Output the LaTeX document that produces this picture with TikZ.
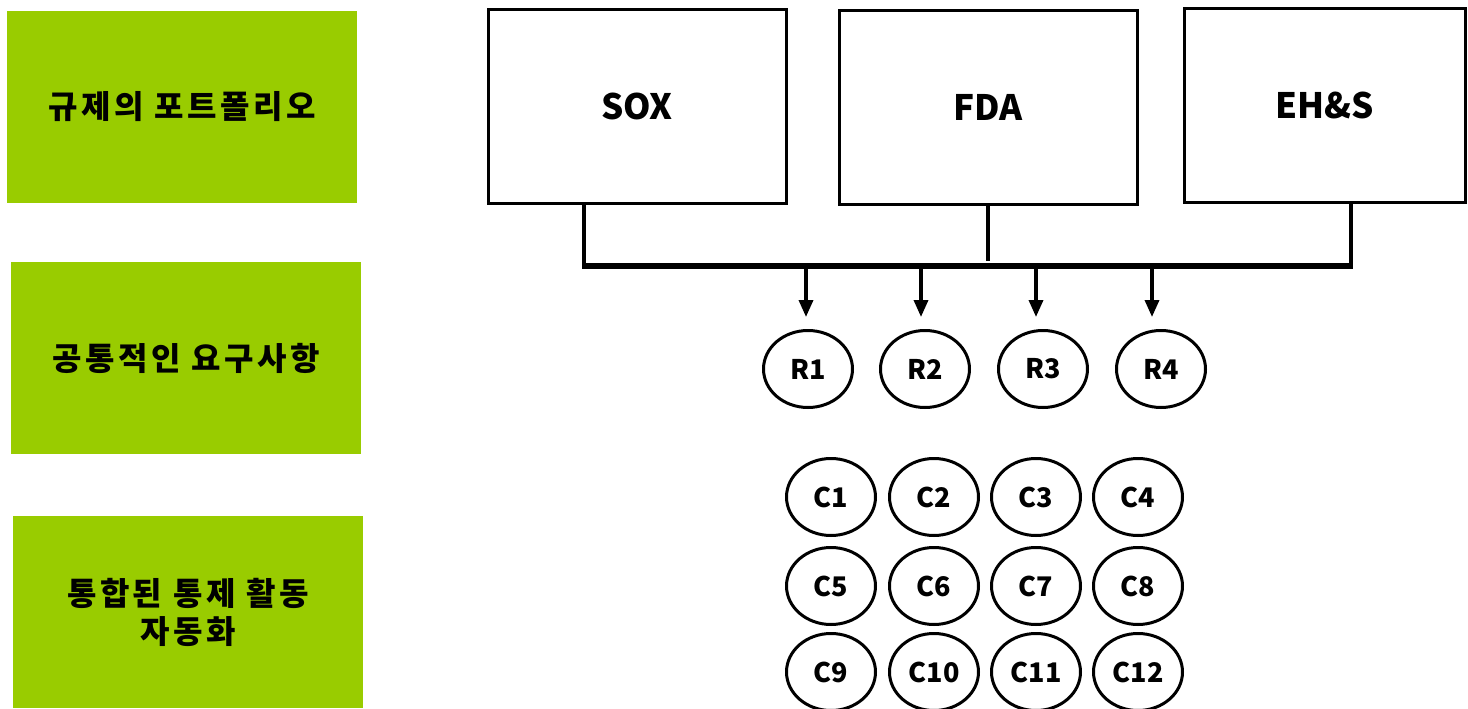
\documentclass[tikz,border=0pt]{standalone}
\usepackage{fontspec}
\setmainfont{Noto Sans CJK KR}
\newfontfamily\krwide{Noto Sans CJK KR}[LetterSpace=11]
\usetikzlibrary{shapes.geometric,arrows.meta}
\definecolor{leaf}{HTML}{99CC00}
\begin{document}
\begin{tikzpicture}[x=1pt,y=-1pt,
  stage/.style={fill=leaf,draw=none,minimum width=350pt,minimum height=192pt,
    inner sep=0pt,font=\krwide\bfseries\fontsize{32}{38}\selectfont,align=center},
  regbox/.style={draw=black,line width=3pt,fill=white,inner sep=0pt,
    font=\bfseries\fontsize{35}{40}\selectfont},
  oval/.style={ellipse,draw=black,line width=3pt,minimum width=89pt,minimum height=77pt,
    inner sep=0pt,font=\bfseries\fontsize{27}{30}\selectfont},
  link/.style={line width=3.5pt,line cap=butt},
  busline/.style={line width=5.5pt,line cap=butt},
  arr/.style={line width=3.5pt,-{Triangle[length=17pt,width=14pt]}}]
\useasboundingbox (0,0) rectangle (1468,709);

% stage labels on the left
\node[stage] (s1) at (182,107) {규제의 포트폴리오};
\node[stage] (s2) at (186,358) {공통적인 요구사항};
\node[stage] (s3) at (188,612) {통합된 통제 활동\\자동화};

% regulations
\node[regbox,minimum width=298pt,minimum height=193pt] (sox) at (637,106.5) {SOX};
\node[regbox,minimum width=298pt,minimum height=193pt] (fda) at (988,107.5) {FDA};
\node[regbox,minimum width=281pt,minimum height=193pt] (ehs) at (1325,105.5) {EH\&S};

% common requirements
\node[oval] (R1) at (808,369) {R1};
\node[oval] (R2) at (925,369) {R2};
\node[oval] (R3) at (1043,369) {R3};
\node[oval] (R4) at (1161,369) {R4};

% integrated controls
\foreach \r/\y in {0/497,1/586,2/672}{
  \foreach \c/\x in {1/831,2/934,3/1036,4/1138}{
    \pgfmathtruncatemacro{\k}{4*\r+\c}
    \node[oval] (C\k) at (\x,\y) {C\k};
  }
}

% junctions on the common bus
\coordinate (j1) at (584,266);
\coordinate (j2) at (988,261);
\coordinate (j3) at (1351,266);
\draw[link] (j1 |- sox.south) -- (j1);
\draw[link] (j2 |- fda.south) -- (j2);
\draw[link] (j3 |- ehs.south) -- (j3);
\draw[busline] ([xshift=-1.75pt]j1) -- ([xshift=1.75pt]j3);

% taps from the bus to each requirement
\foreach \i/\x in {1/806,2/921,3/1036,4/1152}{
  \coordinate (t\i) at (\x,268);
  \draw[arr] (t\i) -- ([yshift=12pt]R\i.north -| t\i);
}
\end{tikzpicture}
\end{document}
